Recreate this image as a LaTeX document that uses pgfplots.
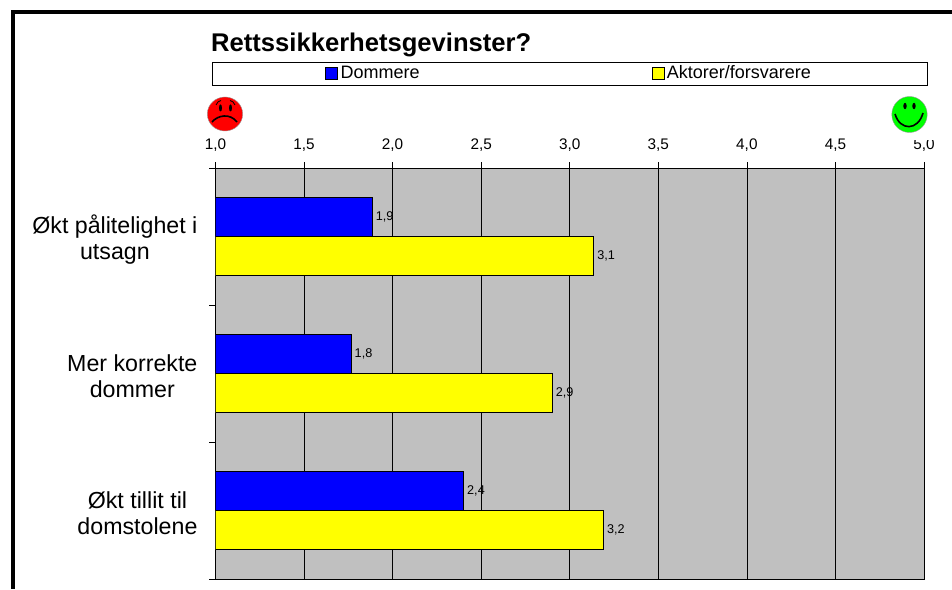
\documentclass[border=0pt]{standalone}
\usepackage{pgfplots}
\pgfplotsset{compat=1.18}
\usepackage{fontspec}
\setmainfont{Liberation Sans}
\definecolor{bargrey}{RGB}{192,192,192}
\definecolor{xblue}{RGB}{0,0,255}
\definecolor{xyellow}{RGB}{255,255,0}
\definecolor{xred}{RGB}{255,0,0}
\definecolor{xgreen}{RGB}{0,255,0}
\begin{document}
\begin{tikzpicture}[x=0.75pt,y=0.75pt]
\path[use as bounding box] (0,0) rectangle (952,589);
\begin{axis}[
  at={(161.6pt,7.5pt)},anchor=south west,
  scale only axis,
  width=531.4pt,height=308.25pt,
  xmin=1,xmax=5,ymin=0,ymax=3,
  y dir=reverse,
  axis background/.style={fill=bargrey},
  axis line style={black,line width=0.6pt},
  xtick={1,1.5,2,2.5,3,3.5,4,4.5,5},
  xticklabels={{1,0},{1,5},{2,0},{2,5},{3,0},{3,5},{4,0},{4,5},{5,0}},
  xticklabel pos=upper,
  xtick pos=upper,
  ytick pos=left,
  ytick={0,1,2,3},
  yticklabels={},
  extra y ticks={0.5,1.5,2.5},
  extra y tick labels={{Økt pålitelighet i\\utsagn},{Mer korrekte\\dommer},{Økt tillit til\\domstolene}},
  extra y tick style={major tick length=0pt,yticklabel style={align=center,font=\fontsize{17.4}{19.5}\selectfont,xshift=-10pt,yshift=-2pt}},
  tick align=outside,
  major tick length=4.5pt,
  tick style={black,line width=0.5pt},
  xmajorgrids,
  grid style={black,line width=0.5pt},
  xticklabel style={font=\fontsize{11.5}{13}\selectfont,yshift=4.5pt},
  /pgf/number format/assume math mode=true,
  title={\textbf{Rettssikkerhetsgevinster?}},
  title style={at={(-0.0064,1.2847)},yshift=-6.5pt,anchor=base west,inner sep=0pt,font=\fontsize{19.2}{22}\selectfont},
  xbar,
  bar width=29.25pt,
  nodes near coords,
  nodes near coords style={font=\fontsize{9.5}{11}\selectfont,anchor=west,black,inner xsep=2.5pt,
    /pgf/number format/.cd,fixed,fixed zerofill,precision=1,use comma},
  point meta=x,
  legend columns=2,
  legend style={at={(0.4997,1.23)},anchor=center,draw=black,line width=0.6pt,fill=white,
    inner xsep=85pt,inner ysep=1pt,font=\fontsize{13.5}{15}\selectfont,
    /tikz/every even column/.append style={column sep=172pt}},
  legend image code/.code={\draw[#1,draw=black,line width=0.4pt] (0pt,-4.5pt) rectangle (9pt,4.5pt);},
]
\addplot[draw=black,fill=xblue,line width=0.6pt,bar shift=14.625pt] coordinates {(1.884,0.5) (1.765,1.5) (2.40,2.5)};
\addlegendentry{Dommere}
\addplot[draw=black,fill=xyellow,line width=0.6pt,bar shift=-14.625pt] coordinates {(3.135,0.5) (2.90,1.5) (3.19,2.5)};
\addlegendentry{Aktorer/forsvarere}
\end{axis}
\begin{scope}[shift={(0,589)},yscale=-1]
\draw[black,line width=2.4pt] (952,12) -- (13,12) -- (13,589);
% white patch that hides the top of the last tick label
\fill[white] (890,96) rectangle (940,140);
% angry face
\fill[xred,draw=black!40,line width=0.3pt] (225,114) ellipse (17.7 and 17);
\draw[black,line width=1.2pt] (212,122) .. controls (218,115) and (230,113) .. (237,122);
\fill[black] (220.5,108) ellipse (1.5 and 3.5);
\fill[black] (230.5,108) ellipse (1.5 and 3.5);
\draw[black,line width=0.6pt] (216,105) .. controls (217,102) and (219,101) .. (221,100.5);
\draw[black,line width=0.6pt] (235,105) .. controls (234,102) and (232,101) .. (230,100.5);
% happy face
\fill[xgreen,draw=black!40,line width=0.3pt] (909.5,114.5) ellipse (17.7 and 18);
\draw[black,line width=1.2pt] (895,114) .. controls (900,131) and (918,131) .. (923,113);
\fill[black] (905,106) ellipse (1.7 and 3.2);
\fill[black] (914,106) ellipse (1.7 and 3.2);
\end{scope}
\end{tikzpicture}
\end{document}
